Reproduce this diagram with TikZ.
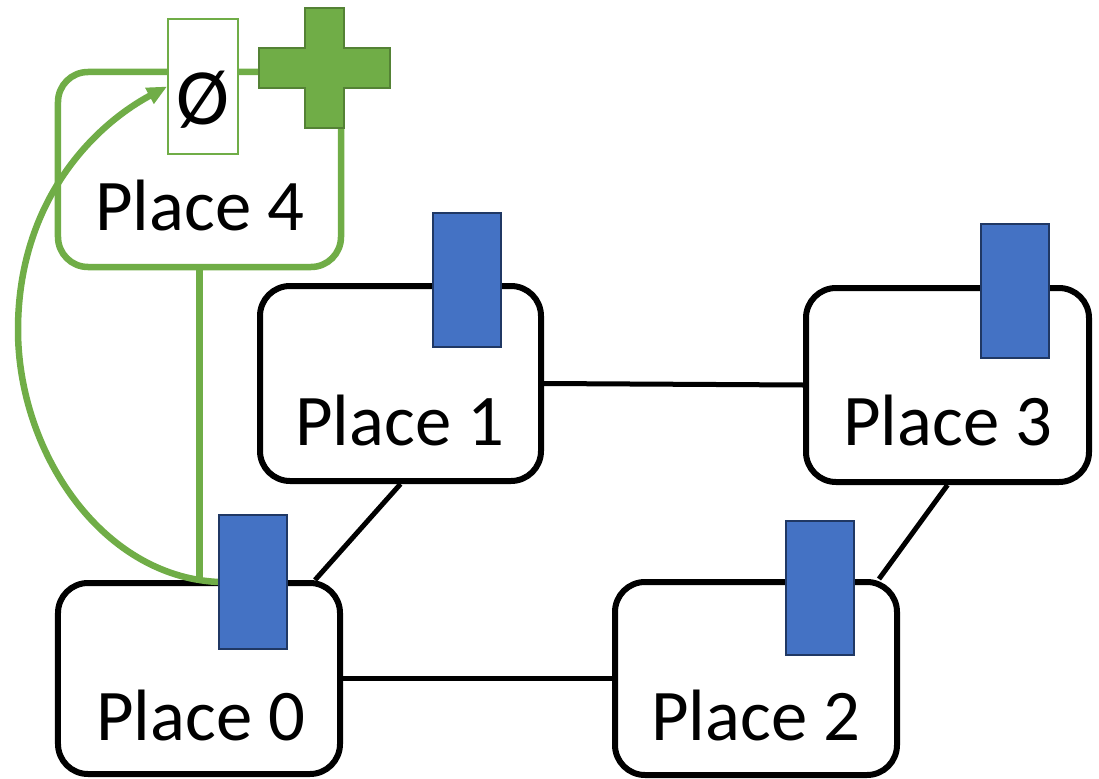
\documentclass[tikz,border=0pt]{standalone}
\usepackage{fontspec}
\setmainfont{Carlito}
\usetikzlibrary{arrows.meta}
\definecolor{pgreen}{HTML}{70AD47}
\definecolor{dgreen}{HTML}{548235}
\definecolor{pblue}{HTML}{4472C4}
\definecolor{dblue}{HTML}{203864}
\tikzset{
  placebox/.style={draw=black, line width=6bp, rounded corners=30bp, fill=white, inner sep=0pt},
  greenbox/.style={draw=pgreen, line width=6.5bp, rounded corners=30bp, fill=white, inner sep=0pt},
  token/.style={draw=dblue, line width=2bp, fill=pblue, inner sep=0pt, minimum width=68bp, minimum height=134bp},
  emptybox/.style={draw=pgreen, line width=1.8bp, fill=white, inner sep=0pt, minimum width=70bp, minimum height=135bp},
  placetext/.style={anchor=base, inner sep=0pt, font=\fontsize{73}{80}\selectfont},
  link/.style={draw=black, line width=5bp},
  glink/.style={draw=pgreen, line width=6.5bp},
}
\begin{document}
\begin{tikzpicture}[x=1bp, y=-1bp]
\useasboundingbox (0,0) rectangle (1099,779);
% place boxes
\node[greenbox, minimum width=283bp, minimum height=195bp] (p4) at (199.5,169.5) {};
\node[placebox, minimum width=282bp, minimum height=191bp] (p0) at (199,678.5) {};
\node[placebox, minimum width=281bp, minimum height=195bp] (p1) at (400.5,383.5) {};
\node[placebox, minimum width=283bp, minimum height=194bp] (p3) at (947.5,385) {};
\node[placebox, minimum width=282bp, minimum height=193bp] (p2) at (756,678.5) {};
% labels
\node[placetext] (t4) at (200,230) {Place 4};
\node[placetext] (t0) at (201,740) {Place 0};
\node[placetext] (t1) at (400,445) {Place 1};
\node[placetext] (t3) at (948,445) {Place 3};
\node[placetext] (t2) at (756,740) {Place 2};
% connectors
\draw[link] (p1.east) -- (p3.west);
\draw[link] (p0.east) -- (p2.west);
\draw[link] (p1.south) -- ([xshift=-28bp]p0.north east);
\draw[link] (p3.south) -- ([xshift=-21bp]p2.north east);
% empty set box
\node[emptybox] (e) at (203,86.5) {};
\node[anchor=base, inner sep=0pt, font=\fontsize{80}{80}\selectfont] (et) at (203,124) {Ø};
% plus sign
\draw[fill=pgreen, draw=dgreen, line width=2bp]
  (305,8) -- (344,8) -- (344,48) -- (390,48) -- (390,88) -- (344,88) -- (344,128)
  -- (305,128) -- (305,88) -- (259,88) -- (259,48) -- (305,48) -- cycle;
% green connectors
\coordinate (b0w) at (218,582);
\draw[glink] (p4.south) -- (p4.south |- p0.north);
\draw[glink, -{Triangle[length=20bp,width=17bp]}] (b0w) .. controls (100,576) and (18,450) .. (18,330)
  .. controls (18,200) and (95,125) .. (e.west);
% tokens
\node[token] (b0) at (252.5,581.5) {};
\node[token] (b1) at (467,279.5) {};
\node[token] (b3) at (1014.5,291) {};
\node[token] (b2) at (819.5,588) {};
\end{tikzpicture}
\end{document}
